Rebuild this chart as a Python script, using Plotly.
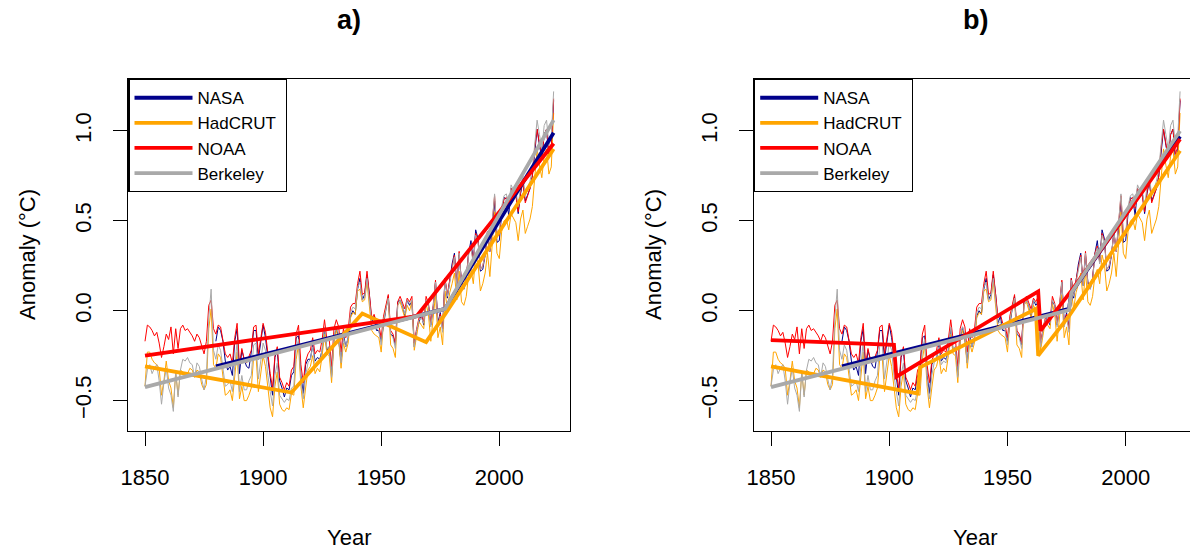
import plotly.graph_objects as go

# ---------------- data ----------------
years = list(range(1850, 2024))
nasa_years = list(range(1880, 2024))

nasa = [
    -0.17, -0.09, -0.11, -0.17, -0.28, -0.33, -0.31, -0.36, -0.17, -0.10,
    -0.35, -0.22, -0.27, -0.31, -0.32, -0.23, -0.11, -0.11, -0.27, -0.17,
    -0.08, -0.15, -0.28, -0.37, -0.47, -0.26, -0.22, -0.39, -0.43, -0.48,
    -0.43, -0.44, -0.36, -0.34, -0.15, -0.14, -0.36, -0.46, -0.30, -0.27,
    -0.27, -0.19, -0.28, -0.26, -0.27, -0.22, -0.10, -0.22, -0.20, -0.36,
    -0.16, -0.09, -0.16, -0.29, -0.13, -0.20, -0.15, -0.03, -0.00, -0.02,
    0.12, 0.18, 0.06, 0.09, 0.20, 0.09, -0.07, -0.03, -0.11, -0.11,
    -0.17, -0.07, 0.01, 0.08, -0.13, -0.14, -0.19, 0.05, 0.06, 0.03,
    -0.03, 0.06, 0.03, 0.05, -0.20, -0.11, -0.06, -0.02, -0.08, 0.05,
    0.03, -0.08, 0.01, 0.16, -0.07, -0.01, -0.10, 0.18, 0.07, 0.16,
    0.26, 0.32, 0.14, 0.31, 0.16, 0.12, 0.18, 0.32, 0.39, 0.27,
    0.45, 0.40, 0.22, 0.23, 0.31, 0.44, 0.33, 0.46, 0.61, 0.38,
    0.39, 0.54, 0.63, 0.62, 0.53, 0.68, 0.64, 0.66, 0.54, 0.65,
    0.72, 0.61, 0.65, 0.68, 0.75, 0.90, 1.01, 0.92, 0.85, 0.98,
    1.01, 0.85, 0.89, 1.17,
]

hadcrut = [
    -0.42, -0.23, -0.23, -0.27, -0.29, -0.30, -0.32, -0.47, -0.39, -0.28,
    -0.39, -0.43, -0.54, -0.34, -0.47, -0.33, -0.34, -0.36, -0.35, -0.32,
    -0.33, -0.37, -0.33, -0.34, -0.41, -0.44, -0.41, -0.10, 0.01, -0.30,
    -0.32, -0.24, -0.26, -0.36, -0.47, -0.46, -0.44, -0.50, -0.35, -0.23,
    -0.49, -0.42, -0.50, -0.50, -0.47, -0.43, -0.26, -0.25, -0.45, -0.34,
    -0.25, -0.31, -0.43, -0.54, -0.59, -0.42, -0.34, -0.52, -0.55, -0.56,
    -0.54, -0.55, -0.46, -0.47, -0.27, -0.19, -0.42, -0.54, -0.43, -0.33,
    -0.31, -0.25, -0.35, -0.32, -0.34, -0.25, -0.13, -0.24, -0.25, -0.40,
    -0.17, -0.11, -0.16, -0.32, -0.18, -0.23, -0.18, -0.04, -0.01, -0.02,
    0.11, 0.12, 0.05, 0.06, 0.16, 0.04, -0.11, -0.13, -0.14, -0.15,
    -0.23, -0.06, 0.02, 0.07, -0.19, -0.21, -0.26, 0.03, 0.05, 0.01,
    -0.04, 0.03, 0.00, 0.05, -0.22, -0.14, -0.06, -0.08, -0.10, 0.04,
    -0.02, -0.17, -0.05, 0.09, -0.15, -0.09, -0.19, 0.11, 0.01, 0.10,
    0.15, 0.21, 0.06, 0.22, 0.05, 0.03, 0.08, 0.20, 0.23, 0.15,
    0.31, 0.26, 0.11, 0.15, 0.21, 0.32, 0.19, 0.37, 0.55, 0.32,
    0.29, 0.44, 0.50, 0.51, 0.45, 0.54, 0.51, 0.49, 0.39, 0.51,
    0.56, 0.43, 0.47, 0.51, 0.58, 0.76, 0.90, 0.81, 0.74, 0.86,
    0.90, 0.76, 0.80, 1.10,
]

noaa = [
    -0.17, -0.08, -0.09, -0.11, -0.14, -0.12, -0.18, -0.26, -0.20, -0.13,
    -0.16, -0.09, -0.24, -0.10, -0.21, -0.10, -0.08, -0.11, -0.10, -0.12,
    -0.14, -0.17, -0.13, -0.15, -0.20, -0.24, -0.17, 0.03, 0.06, -0.10,
    -0.13, -0.08, -0.09, -0.17, -0.24, -0.26, -0.24, -0.29, -0.15, -0.07,
    -0.30, -0.21, -0.27, -0.29, -0.26, -0.22, -0.09, -0.08, -0.24, -0.14,
    -0.07, -0.12, -0.25, -0.35, -0.43, -0.25, -0.20, -0.37, -0.40, -0.44,
    -0.40, -0.42, -0.33, -0.31, -0.13, -0.08, -0.30, -0.40, -0.28, -0.24,
    -0.22, -0.15, -0.24, -0.22, -0.23, -0.16, -0.05, -0.16, -0.16, -0.31,
    -0.10, -0.05, -0.09, -0.23, -0.10, -0.15, -0.11, 0.02, 0.04, 0.04,
    0.15, 0.22, 0.09, 0.10, 0.22, 0.10, -0.04, -0.02, -0.07, -0.08,
    -0.15, -0.03, 0.03, 0.09, -0.11, -0.13, -0.18, 0.05, 0.08, 0.04,
    0.01, 0.07, 0.05, 0.08, -0.18, -0.10, -0.04, -0.03, -0.06, 0.08,
    0.04, -0.07, 0.03, 0.17, -0.08, -0.02, -0.10, 0.18, 0.09, 0.17,
    0.25, 0.31, 0.15, 0.33, 0.15, 0.13, 0.18, 0.32, 0.36, 0.27,
    0.43, 0.39, 0.23, 0.25, 0.31, 0.44, 0.33, 0.48, 0.64, 0.42,
    0.42, 0.56, 0.62, 0.63, 0.57, 0.68, 0.65, 0.64, 0.55, 0.66,
    0.72, 0.60, 0.64, 0.68, 0.75, 0.91, 1.01, 0.93, 0.85, 0.98,
    1.01, 0.87, 0.91, 1.18,
]

berkeley = [
    -0.42, -0.33, -0.30, -0.35, -0.32, -0.30, -0.39, -0.52, -0.40, -0.32,
    -0.43, -0.47, -0.56, -0.34, -0.48, -0.33, -0.27, -0.28, -0.26, -0.29,
    -0.30, -0.37, -0.29, -0.31, -0.38, -0.44, -0.36, -0.04, 0.12, -0.22,
    -0.27, -0.19, -0.22, -0.33, -0.42, -0.41, -0.39, -0.45, -0.31, -0.17,
    -0.45, -0.36, -0.44, -0.44, -0.39, -0.36, -0.19, -0.18, -0.38, -0.27,
    -0.18, -0.22, -0.36, -0.45, -0.53, -0.36, -0.29, -0.47, -0.49, -0.51,
    -0.49, -0.50, -0.43, -0.42, -0.21, -0.16, -0.38, -0.49, -0.36, -0.29,
    -0.27, -0.20, -0.30, -0.28, -0.29, -0.21, -0.09, -0.21, -0.20, -0.37,
    -0.14, -0.09, -0.13, -0.29, -0.15, -0.20, -0.15, -0.01, 0.02, 0.01,
    0.13, 0.16, 0.06, 0.07, 0.18, 0.07, -0.07, -0.06, -0.10, -0.11,
    -0.19, -0.05, 0.01, 0.07, -0.13, -0.15, -0.21, 0.03, 0.06, 0.03,
    -0.02, 0.06, 0.04, 0.06, -0.20, -0.11, -0.05, -0.04, -0.07, 0.06,
    0.03, -0.09, 0.02, 0.16, -0.09, -0.03, -0.12, 0.17, 0.08, 0.16,
    0.24, 0.30, 0.14, 0.32, 0.14, 0.12, 0.17, 0.31, 0.35, 0.26,
    0.42, 0.38, 0.23, 0.25, 0.31, 0.44, 0.33, 0.48, 0.65, 0.43,
    0.43, 0.58, 0.64, 0.65, 0.58, 0.70, 0.67, 0.67, 0.58, 0.69,
    0.75, 0.64, 0.68, 0.72, 0.79, 0.94, 1.06, 0.98, 0.90, 1.03,
    1.06, 0.92, 0.96, 1.22,
]

# fitted piecewise trends (break years and values), panel a
fit_a = {
    "NASA": ([1880, 1977, 2023], [-0.31, 0.01, 0.99]),
    "HadCRUT": ([1850, 1912, 1942, 1969, 1977, 2023], [-0.31, -0.455, -0.015, -0.175, -0.02, 0.90]),
    "NOAA": ([1850, 1965, 2023], [-0.25, -0.03, 0.93]),
    "Berkeley": ([1850, 1977, 2023], [-0.425, 0.01, 1.06]),
}
# panel b (with level shifts)
fit_b = {
    "NASA": ([1880, 1976, 1977, 2023], [-0.31, 0.01, 0.10, 0.97]),
    "HadCRUT": ([1850, 1912, 1913, 1962, 1963, 1976, 2023], [-0.31, -0.46, -0.315, 0.01, -0.25, -0.03, 0.89]),
    "NOAA": ([1850, 1902, 1903, 1963, 1964, 1977, 2023], [-0.163, -0.19, -0.367, 0.107, -0.111, 0.11, 0.955]),
    "Berkeley": ([1850, 1976, 1977, 2023], [-0.425, 0.004, 0.10, 1.0]),
}

names = ["NASA", "HadCRUT", "NOAA", "Berkeley"]
colors = {"NASA": "#00008B", "HadCRUT": "#FFA500", "NOAA": "#FF0000", "Berkeley": "#A9A9A9"}
series = {"NASA": (nasa_years, nasa), "HadCRUT": (years, hadcrut),
          "NOAA": (years, noaa), "Berkeley": (years, berkeley)}

xticks = [1850, 1900, 1950, 2000]
yticks = [-0.5, 0.0, 0.5, 1.0]
yticklabels = ["\u22120.5", "0.0", "0.5", "1.0"]

# ---------------- figure ----------------
W, H = 1190, 550
FONT = "Liberation Sans, Arial, Helvetica, sans-serif"
PAD = "\u00a0" * 1
fig = go.Figure()

panels = [("x", "y", fit_a, "legend"), ("x2", "y2", fit_b, "legend2")]
for xa, ya, fits, leg in panels:
    for n in names:
        xs, ys = series[n]
        fig.add_trace(go.Scatter(x=xs, y=ys, mode="lines", xaxis=xa, yaxis=ya,
                                 line=dict(color=colors[n], width=1),
                                 showlegend=False, hoverinfo="skip"))
    for n in names:
        fx, fy = fits[n]
        fig.add_trace(go.Scatter(x=fx, y=fy, mode="lines", xaxis=xa, yaxis=ya,
                                 line=dict(color=colors[n], width=3.8),
                                 name=n + (PAD if n == "HadCRUT" else ""), legend=leg, showlegend=True))

ydom = [1 - 431 / H, 1 - 79 / H]
common_x = dict(tickvals=xticks, ticks="outside", ticklen=14, tickwidth=1, tickcolor="black",
                showline=True, linecolor="black", linewidth=1.2, showgrid=False, zeroline=False,
                tickfont=dict(family=FONT, size=22, color="black"), ticklabelstandoff=12,
                automargin=False)
common_y = dict(tickvals=yticks, ticktext=yticklabels, tickangle=-90, ticks="outside", ticklen=14,
                tickwidth=1, tickcolor="black", showline=True, linecolor="black", linewidth=1.2,
                showgrid=False, zeroline=False, range=[-0.669, 1.289], domain=ydom,
                tickfont=dict(family=FONT, size=22, color="black"), ticklabelstandoff=13,
                automargin=False)

legend_common = dict(bordercolor="black", borderwidth=1.2, bgcolor="white",
                     font=dict(family=FONT, size=17, color="black"),
                     xanchor="left", yanchor="top", y=1 - 79 / H, tracegroupgap=0,
                     itemwidth=58)

fig.update_layout(
    width=W, height=H, margin=dict(l=0, r=0, t=0, b=0, autoexpand=False),
    paper_bgcolor="white", plot_bgcolor="white",
    font=dict(family=FONT, color="black"),
    xaxis=dict(domain=[128.3 / W, 570 / W], range=[1842.93, 2029.93], mirror=True, anchor="y", **common_x),
    yaxis=dict(anchor="x", mirror=True, **common_y),
    xaxis2=dict(domain=[754 / W, 1.0], range=[1842.8, 2027.2], mirror=True, anchor="y2", **common_x),
    yaxis2=dict(anchor="x2", mirror=False, **common_y),
    legend=dict(x=128.3 / W, **legend_common),
    legend2=dict(x=754 / W, **legend_common),
    showlegend=True,
)

ann = []
for cx, lab in [(349, "a)"), (975, "b)")]:
    ann.append(dict(x=cx / W, y=1 - 20 / H, xref="paper", yref="paper", text="<b>%s</b>" % lab,
                    showarrow=False, font=dict(family=FONT, size=27, color="black"),
                    xanchor="center", yanchor="middle"))
    ann.append(dict(x=cx / W, y=1 - 537 / H, xref="paper", yref="paper", text="Year",
                    showarrow=False, font=dict(family=FONT, size=22, color="black"),
                    xanchor="center", yanchor="middle"))
for cx in [27, 653]:
    ann.append(dict(x=cx / W, y=1 - 255 / H, xref="paper", yref="paper", text="Anomaly (°C)",
                    textangle=-90, showarrow=False, font=dict(family=FONT, size=22, color="black"),
                    xanchor="center", yanchor="middle"))
fig.update_layout(annotations=ann)

fig.write_html("out.html", config={"displayModeBar": False},
               post_script="document.body.style.margin='0';document.body.style.overflow='hidden';")
